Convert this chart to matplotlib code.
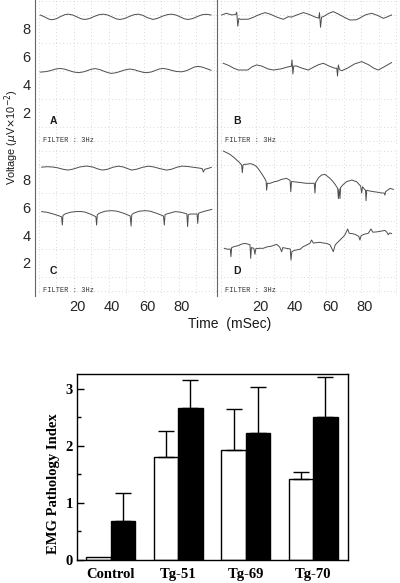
import numpy as np
import matplotlib
matplotlib.use("Agg")
import matplotlib.pyplot as plt
from matplotlib.ticker import FixedLocator

# ---- EMG traces, (time mSec, voltage x10^-2 uV) ----
a_top = [(-1, 9.0), (1.5, 8.86), (4, 8.7), (5.5, 8.66), (8, 8.72), (10.5, 8.88), (13, 9.02),
         (15, 9.06), (17.5, 9.0), (20, 8.86), (22.5, 8.72), (24.6, 8.68), (27, 8.74), (30, 8.9),
         (32.5, 9.02), (35, 9.06), (37.5, 9.0), (40, 8.86), (42.5, 8.72), (44.6, 8.68), (47, 8.74),
         (50, 8.9), (52.5, 9.02), (55, 9.06), (57.5, 8.98), (60, 8.82), (63.4, 8.68), (66, 8.76),
         (69, 8.92), (71.5, 9.02), (74, 9.06), (76.5, 9.0), (79, 8.86), (81.5, 8.72), (83.6, 8.68),
         (86, 8.74), (89, 8.9), (91.5, 9.02), (94, 9.05), (96.6, 9.0)]
a_bot = [(-1, 4.92), (2, 4.95), (5, 5.03), (7.5, 5.13), (10.3, 5.18), (13, 5.13), (15.5, 5.03),
         (18, 4.93), (20.8, 4.88), (23.5, 4.93), (26, 5.03), (28, 5.12), (30.3, 5.17), (33, 5.1),
         (35.5, 4.98), (38, 4.87), (39.8, 4.83), (42.5, 4.88), (45, 4.98), (47.5, 5.08), (50.3, 5.14),
         (53, 5.08), (55.5, 4.98), (58, 4.9), (59.8, 4.88), (62.5, 4.93), (65, 5.05), (67, 5.14),
         (69.3, 5.18), (72, 5.12), (74.5, 5.03), (77, 4.96), (79.8, 4.94), (82.5, 5.02), (85, 5.16),
         (87, 5.28), (89, 5.33), (91.5, 5.28), (94, 5.17), (96.6, 5.05)]
b_top = [(-1.9, 9.0), (0.7, 9.12), (4, 9.0), (6.2, 9.05), (6.7, 9.2), (7.3, 8.2), (7.9, 8.75),
         (9, 8.69), (13.3, 8.7), (16, 8.82), (19, 9.0), (22.9, 9.17), (26, 9.05), (29.5, 8.85),
         (33.3, 8.69), (36.2, 8.88), (38, 8.85), (41, 9.0), (44.8, 9.17), (48, 9.05), (51.5, 8.85),
         (53.6, 8.78), (54.0, 9.17), (54.6, 8.12), (55.2, 8.85), (56.2, 8.88), (59, 9.1), (61.9, 9.24),
         (65, 9.05), (68, 8.85), (71.4, 8.64), (75.2, 8.66), (78, 8.85), (80.5, 9.02), (83.8, 9.12),
         (87, 8.98), (90.5, 8.76), (93, 8.88), (95.2, 9.0)]
b_bot = [(-1, 5.55), (2, 5.4), (5, 5.2), (7.6, 5.07), (13, 5.07), (15.5, 5.3), (18.1, 5.43),
         (21, 5.35), (24.5, 5.15), (27.6, 5.07), (32, 5.15), (36.2, 5.3), (37.9, 5.33), (38.3, 5.79),
         (38.8, 4.79), (39.3, 5.36), (41, 5.35), (44, 5.2), (47.6, 5.07), (51, 5.3), (53.5, 5.45),
         (56.2, 5.55), (59.5, 5.35), (62.9, 5.19), (63.9, 5.2), (64.3, 4.64), (64.8, 5.43), (65.4, 5.1),
         (66.7, 5.02), (70, 5.2), (74, 5.5), (78.1, 5.67), (82, 5.45), (85, 5.2), (87.6, 5.07),
         (91, 5.3), (95.2, 5.6)]
c_top = [(-0.2, 8.85), (3, 8.88), (6, 8.86), (9, 8.8), (12, 8.7), (15, 8.64), (18, 8.72),
         (21.5, 8.86), (25.5, 8.93), (29, 8.86), (32, 8.72), (34.5, 8.64), (37.5, 8.7), (40.5, 8.84),
         (43.6, 8.92), (46.5, 8.86), (49, 8.74), (51.2, 8.64), (54, 8.7), (57.5, 8.84), (60.8, 8.92),
         (64, 8.86), (67.5, 8.74), (71.2, 8.64), (74, 8.7), (77, 8.84), (79.8, 8.92), (83, 8.9),
         (86.5, 8.84), (90, 8.78), (91.5, 8.75), (92.2, 8.5), (93, 8.7), (94.5, 8.74), (96.8, 8.84)]
c_bot = [(-0.2, 5.67), (3, 5.62), (6, 5.52), (9, 5.4), (11.2, 5.3), (11.6, 4.71), (12.0, 5.4),
         (13.1, 5.5), (16, 5.62), (18.9, 5.67), (22, 5.68), (24.6, 5.64), (27.5, 5.5), (30.8, 5.31),
         (31.2, 4.71), (31.6, 5.45), (32.6, 5.55), (36, 5.7), (39.8, 5.74), (43, 5.7), (46.5, 5.56),
         (50.4, 5.36), (50.9, 4.64), (51.3, 5.45), (52.2, 5.55), (55.5, 5.7), (58.9, 5.74), (62, 5.7),
         (65.5, 5.55), (69.4, 5.36), (69.9, 4.71), (70.3, 5.45), (71.2, 5.5), (76, 5.67), (79, 5.64),
         (81.7, 5.55), (82.8, 5.5), (83.2, 4.6), (83.6, 5.45), (84.6, 5.5), (87.4, 5.5), (88.6, 5.5),
         (89, 4.83), (89.4, 5.55), (90.3, 5.6), (93.5, 5.72), (97, 5.83)]
d_top = [(-0.95, 10.0), (1, 9.88), (2.9, 9.76), (5, 9.55), (6.7, 9.36), (8.5, 9.15), (9.5, 9.0),
         (9.9, 8.45), (10.3, 9.0), (11, 9.05), (12.4, 9.05), (14, 9.1), (15.2, 9.08), (16.8, 9.0),
         (18.1, 8.88), (19.5, 8.65), (20.9, 8.4), (22.4, 8.1), (23.5, 7.85), (23.8, 7.2), (24.2, 7.7),
         (25.7, 7.69), (28, 7.8), (30, 7.85), (32.4, 7.98), (35.2, 8.05), (37.2, 7.9), (37.6, 7.1),
         (38, 7.82), (39, 7.81), (41, 7.78), (43.8, 7.74), (46, 7.7), (48.6, 7.69), (51.0, 7.7),
         (51.4, 7.0), (51.8, 7.75), (53.5, 8.1), (55.2, 8.29), (57.1, 8.33), (58.5, 8.2), (60, 8.05),
         (61.5, 7.85), (62.9, 7.62), (64.4, 7.33), (64.8, 6.6), (65.2, 7.3), (65.7, 6.6), (66.1, 7.4),
         (67.5, 7.6), (69.5, 7.81), (72.4, 7.93), (75.2, 7.81), (77.5, 7.5), (78.1, 7.0), (78.6, 7.45),
         (79.5, 7.3), (80.3, 7.2), (80.6, 6.45), (81, 7.2), (82.5, 7.15), (84.8, 7.1), (87.6, 7.05),
         (89.5, 7.0), (91.0, 7.0), (91.4, 6.85), (91.8, 7.1), (94.3, 7.33), (95.2, 7.3), (96.2, 7.26)]
d_bot = [(-0.4, 3.05), (1.5, 2.98), (3.0, 3.0), (3.4, 2.45), (3.8, 3.1), (5.5, 3.18), (7.6, 3.24),
         (9.5, 3.35), (11.4, 3.4), (13, 3.35), (14.3, 3.3), (14.7, 2.33), (15.1, 3.1), (16.5, 3.05),
         (17.1, 2.62), (17.6, 3.02), (19.5, 3.05), (21.9, 3.05), (24, 3.15), (26.5, 3.2), (29.5, 3.33),
         (31.2, 3.15), (32.4, 2.81), (33, 3.1), (35, 3.05), (37.3, 3.0), (37.7, 2.21), (38.2, 2.8),
         (39.5, 2.9), (42.9, 2.98), (44.5, 3.15), (46.7, 3.29), (48.5, 3.4), (49.5, 3.64), (50.5, 3.42),
         (52, 3.45), (54.3, 3.48), (56, 3.43), (58.1, 3.4), (60, 3.3), (61.9, 2.81), (63, 3.3),
         (65, 3.55), (66.7, 3.76), (68.5, 4.0), (70.1, 4.43), (71, 4.12), (72.5, 4.1), (74.3, 4.05),
         (76.5, 3.9), (77.1, 3.64), (77.8, 3.95), (79.5, 4.05), (81.9, 4.12), (83.4, 4.43), (84.5, 4.2),
         (86.5, 4.22), (88.6, 4.26), (91.4, 4.33), (92.5, 4.2), (93.3, 4.02), (94.2, 4.15), (95.2, 4.1)]

panel_letters = ["A", "B", "C", "D"]
time_ticks = [20, 40, 60, 80]
volt_ticks = [2, 4, 6, 8]

# ---- bar chart ----
groups = ["Control", "Tg-51", "Tg-69", "Tg-70"]
white_vals = [0.06, 1.80, 1.93, 1.42]
white_err = [0.0, 0.46, 0.72, 0.13]
black_vals = [0.68, 2.67, 2.22, 2.51]
black_err = [0.50, 0.49, 0.82, 0.70]

W, H = 400, 583
fig = plt.figure(figsize=(W / 100, H / 100), dpi=100)

def box(x0, y0, x1, y1):
    # pixel box (top-left origin) -> figure fraction
    return [x0 / W, 1 - y1 / H, (x1 - x0) / W, (y1 - y0) / H]

sans = "Liberation Sans"
axA = fig.add_axes(box(35, 0, 217, 147))
axB = fig.add_axes(box(217, 0, 397, 147))
axC = fig.add_axes(box(35, 147, 217, 296))
axD = fig.add_axes(box(217, 147, 397, 296))

traces = {axA: (a_top, a_bot), axB: (b_top, b_bot), axC: (c_top, c_bot), axD: (d_top, d_bot)}
for i, ax in enumerate([axA, axB, axC, axD]):
    for tr in traces[ax]:
        t, v = zip(*tr)
        ax.plot(t, v, color="0.3", lw=0.7)
    left = ax in (axA, axC)
    ax.set_xlim((-4, 100) if left else (-4.57, 98.3))
    ax.set_ylim((-0.43, 10.07) if i < 2 else (-0.36, 10.29))
    for s in ["top", "right", "bottom"]:
        ax.spines[s].set_visible(False)
    ax.spines["left"].set_color("0.4")
    ax.spines["left"].set_linewidth(0.8)
    ax.xaxis.set_minor_locator(FixedLocator(np.arange(-2, 100, 10)))
    ax.yaxis.set_minor_locator(FixedLocator(np.arange(0, 11, 1)))
    ax.grid(which="minor", color="0.72", lw=0.5, linestyle=(0, (1, 4)))
    ax.tick_params(which="both", length=0)
    ax.set_xticks(time_ticks)
    ax.set_yticks(volt_ticks)
    ax.tick_params(labelsize=10.5, labelcolor="0.15", pad=3)
    for lab in ax.get_xticklabels() + ax.get_yticklabels():
        lab.set_family(sans)
    if i < 2:
        ax.set_xticklabels([])
    if not left:
        ax.set_yticklabels([])
    ax.text(4.5, 1.45, panel_letters[i], fontsize=7.5, fontweight="bold",
            family=sans, color="0.1", va="center")
    ax.text(0.5 if left else 0, 0.02, "FILTER : 3Hz", fontsize=5, family="Liberation Mono",
            color="0.2", va="center")

fig.text(12 / W, 1 - 137 / H, "Voltage ($\\mu$V$\\times$10$^{-2}$)", rotation=90,
         ha="center", va="center", fontsize=7.8, family=sans, color="0.1")
fig.text(230 / W, 1 - 324 / H, "Time  (mSec)", ha="center", va="center",
         fontsize=10, family=sans, color="0.1")

# bar chart
serif = "Liberation Serif"
axE = fig.add_axes(box(77.3, 374, 348.3, 560))
x = np.arange(len(groups))
bw = 0.36
axE.bar(x - bw / 2, white_vals, bw, color="white", edgecolor="black", lw=1, zorder=2)
axE.bar(x + bw / 2, black_vals, bw, color="black", edgecolor="black", lw=1, zorder=2)
wx = [xi - bw / 2 for xi, e in zip(x, white_err) if e > 0]
wv = [v for v, e in zip(white_vals, white_err) if e > 0]
we = [e for e in white_err if e > 0]
axE.errorbar(wx, wv, yerr=[np.zeros(len(we)), we], fmt="none", ecolor="black",
             elinewidth=1, capsize=6, capthick=1, zorder=3)
axE.errorbar(x + bw / 2, black_vals, yerr=[np.zeros(len(x)), black_err], fmt="none",
             ecolor="black", elinewidth=1, capsize=6, capthick=1, zorder=3)
axE.set_xlim(-0.495, 3.52)
axE.set_ylim(0, 3.26)
axE.set_xticks(x)
axE.set_xticklabels(groups)
axE.set_yticks([0, 1, 2, 3])
axE.yaxis.set_minor_locator(FixedLocator([0.5, 1.5, 2.5]))
axE.tick_params(axis="x", length=0, pad=6, labelsize=10.5)
axE.tick_params(axis="y", which="major", direction="in", length=5, width=1, labelsize=10.5, pad=3)
axE.tick_params(axis="y", which="minor", direction="in", length=3, width=1)
for lab in axE.get_xticklabels() + axE.get_yticklabels():
    lab.set_family(serif)
    lab.set_fontweight("bold")
for s in axE.spines.values():
    s.set_linewidth(1)
axE.set_ylabel("EMG Pathology Index", family=serif, fontweight="bold", fontsize=10.5)
axE.yaxis.set_label_coords(-0.064, 0.41)

fig.savefig("out.png", dpi=100)
